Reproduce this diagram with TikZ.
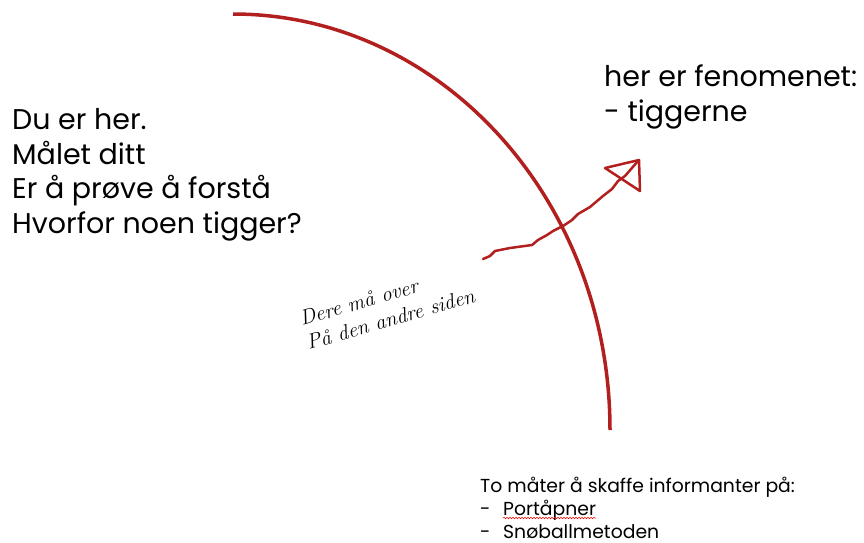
\documentclass[tikz,border=0pt]{standalone}
\usepackage{fontspec}
\newfontfamily\gothic{Poppins}
\usetikzlibrary{decorations.pathmorphing}
\definecolor{penred}{HTML}{B21F1F}

\begin{document}
\begin{tikzpicture}[x=1pt,y=-1pt,
    bigtext/.style={anchor=base west,align=left,inner sep=0pt,font=\gothic\fontsize{28.5}{34.5}\selectfont},
    smalltext/.style={anchor=base west,align=left,inner sep=0pt,font=\gothic\fontsize{18.8}{23}\selectfont},
    handtext/.style={align=left,rotate=16,inner sep=0pt,font=\itshape\fontsize{21}{25}\selectfont}]
        \useasboundingbox (0,0) rectangle (864,542);
        \coordinate (top) at (233,14);
        % the wavy path of the arrow
        \coordinate (a1) at (483,259);
        \coordinate (a2) at (490,256);
        \coordinate (a3) at (495,251);
        \coordinate (a4) at (510,248);
        \coordinate (a5) at (532,245);
        \coordinate (a6) at (538,240);
        \coordinate (a7) at (547,235);
        \coordinate (a8) at (553,231);
        \coordinate (a9) at (563,226);
        \coordinate (a10) at (572,220);
        \coordinate (a11) at (578,214);
        \coordinate (a12) at (590,207);
        \coordinate (a13) at (603,196);
        \coordinate (a14) at (612,189);
        \coordinate (a15) at (618,181);
        \coordinate (a16) at (625,176);
        \coordinate (a17) at (638,161);
        % the triangle of the arrow head
        \coordinate (h1) at (605,168);
        \coordinate (h2) at (639,160);
        \coordinate (h3) at (640,191);

        % the big red arc
        \draw[penred,line width=3.5pt] (top) arc[start angle=-90,end angle=0,x radius=377,y radius=416];
        % the hand drawn arrow
        \draw[penred,line width=2.5pt,line join=round,line cap=round]
          (a1) \foreach \i in {2,...,17} { -- (a\i) };
        \draw[penred,line width=2.5pt,line join=round] (h1) -- (h2) -- (h3) -- cycle;

        % the texts
        \node[bigtext] (here) at (12,233) {Du er her.\\Målet ditt\\Er å prøve å forstå\\Hvorfor noen tigger?};
        \node[bigtext] (phenomenon) at (604,121) {her er fenomenet:\\- tiggerne};
        \node[handtext] (over) at (387,307) {Dere må over\\På den andre siden};
        \node[smalltext] (ways) at (480,492) {To måter å skaffe informanter på:};
        \node[smalltext] (dash1) at (480,515) {-};
        \node[smalltext] (dash2) at (480,538) {-};
        \node[smalltext] (door) at (503,515) {Portåpner};
        \node[smalltext] (snow) at (503,538) {Snøballmetoden};
        % spell check line
        \draw[red,line width=0.5pt,decorate,decoration={snake,amplitude=0.8pt,segment length=3pt}]
          ([yshift=-3pt]door.base west) -- ([yshift=-3pt]door.base east);
    \end{tikzpicture}
\end{document}
